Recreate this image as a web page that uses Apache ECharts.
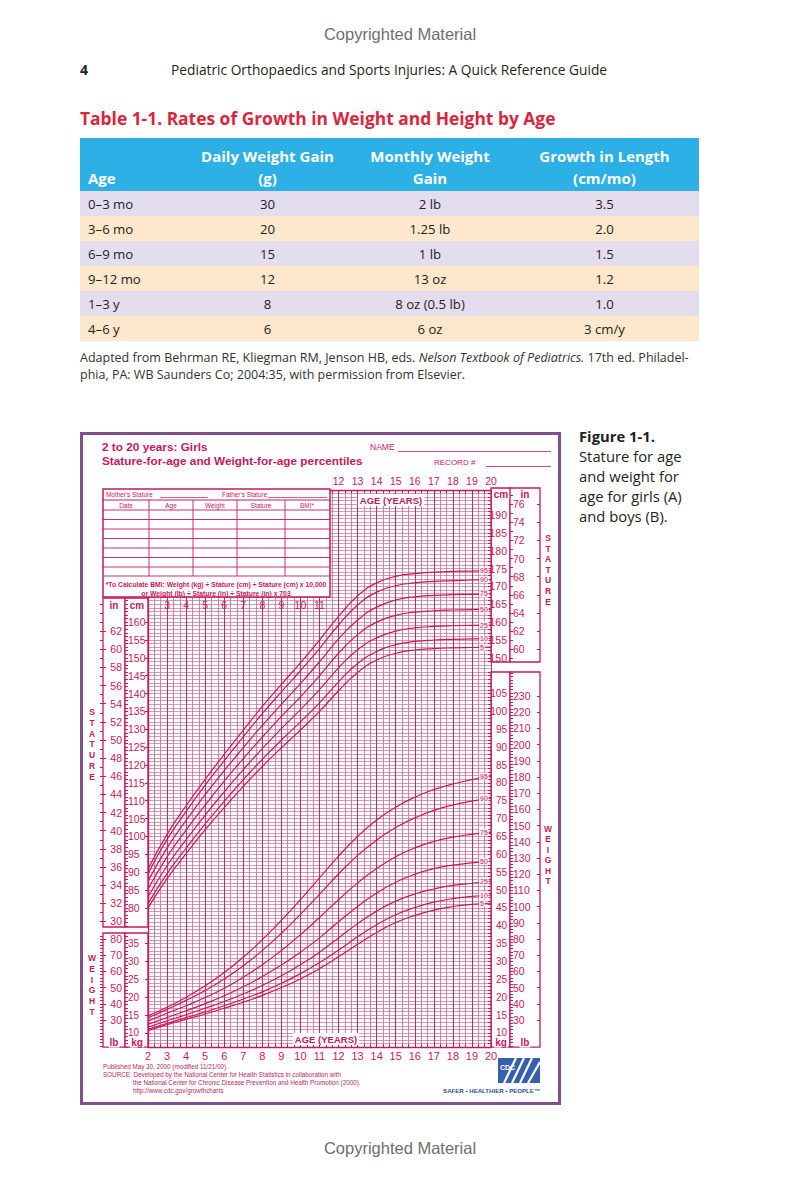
<!DOCTYPE html>
<html><head><meta charset="utf-8">
<script src="https://cdn.jsdelivr.net/npm/echarts@6/dist/echarts.min.js"></script>
<style>
html,body{margin:0;padding:0;background:#fff;}
#page{position:relative;width:800px;height:1184px;overflow:hidden;font-family:'Open Sans',Lato,sans-serif;color:#231f20;}
.t{position:absolute;white-space:nowrap;}
#tbl{position:absolute;left:80px;top:138px;width:619px;border-collapse:collapse;table-layout:fixed;font-family:'Open Sans',sans-serif;}
#tbl th{background:#2cb0e6;color:#fff;font-weight:bold;font-size:15px;line-height:22px;padding:7px 0 2px 0;vertical-align:bottom;text-align:center;}
#tbl th:first-child{text-align:left;padding-left:8px;}
#tbl td{height:25px;padding:0;font-size:13.2px;text-align:center;color:#231f20;}
#tbl td:first-child{text-align:left;padding-left:8px;}
#tbl tr.a td{background:#e4ddee;}
#tbl tr.b td{background:#fde7cd;}
#box{position:absolute;left:80px;top:432px;width:481px;height:673px;box-sizing:border-box;border:3px solid #80508e;}
#chart{position:absolute;left:0;top:0;width:800px;height:1184px;z-index:2;}
</style></head><body>
<div id="page">
  <div class="t" style="left:0;width:800px;text-align:center;top:25px;font-family:'Liberation Sans',Arial,sans-serif;font-size:16.5px;color:#6e6e6e">Copyrighted Material</div>
  <div class="t" style="left:80px;top:60px;font-size:14px;font-weight:bold">4</div>
  <div class="t" style="left:171px;top:60px;font-size:13.75px">Pediatric Orthopaedics and Sports Injuries: A Quick Reference Guide</div>
  <div class="t" style="left:80px;top:106px;font-size:17.4px;font-weight:bold;color:#d9263f">Table 1-1. Rates of Growth in Weight and Height by Age</div>
  <table id="tbl"><colgroup><col style="width:105px"><col style="width:165px"><col style="width:160px"><col style="width:189px"></colgroup><thead></thead><tbody></tbody></table>
  <div class="t" style="left:80px;top:349px;font-size:12.5px;line-height:17px;color:#333">Adapted from Behrman RE, Kliegman RM, Jenson HB, eds. <i>Nelson Textbook of Pediatrics.</i> 17th ed. Philadel-<br>phia, PA: WB Saunders Co; 2004:35, with permission from Elsevier.</div>
  <div class="t" style="left:579px;top:426px;font-size:14.8px;line-height:20px;color:#231f20"><b>Figure 1-1.</b><br>Stature for age<br>and weight for<br>age for girls (A)<br>and boys (B).</div>
  <div id="box"></div>
  <div class="t" style="left:0;width:800px;text-align:center;top:1139px;font-family:'Liberation Sans',Arial,sans-serif;font-size:16.5px;color:#6e6e6e">Copyrighted Material</div>
  <div id="chart"></div>
</div>
<script>
// ---------- table data ----------
const TBL_HEAD = [['', 'Age'], ['Daily Weight Gain', '(g)'], ['Monthly Weight', 'Gain'], ['Growth in Length', '(cm/mo)']];
const TBL_AGE = ['0–3 mo', '3–6 mo', '6–9 mo', '9–12 mo', '1–3 y', '4–6 y'];
const TBL_DAILY = ['30', '20', '15', '12', '8', '6'];
const TBL_MONTHLY = ['2 lb', '1.25 lb', '1 lb', '13 oz', '8 oz (0.5 lb)', '6 oz'];
const TBL_LENGTH = ['3.5', '2.0', '1.5', '1.2', '1.0', '3 cm/y'];

// ---------- chart data (girls 2-20 y) ----------
const AGES = [2,3,4,5,6,7,8,9,10,11,12,13,14,15,16,17,18,19,20];
const PCTS = ['5','10','25','50','75','90','95'];
// stature (cm)
const STAT_P5  = [80.0,88.2,95.2,101.9,108.1,114.0,119.6,124.8,129.8,135.0,140.8,145.9,149.4,151.3,152.2,152.6,152.8,152.9,153.0];
const STAT_P10 = [81.2,89.6,96.7,103.5,109.8,115.9,121.6,127.0,132.1,137.4,143.3,148.4,151.8,153.7,154.6,155.0,155.2,155.3,155.4];
const STAT_P25 = [83.1,91.8,99.1,106.0,112.5,118.7,124.6,130.2,135.5,141.1,147.2,152.3,155.6,157.5,158.4,158.8,159.0,159.1,159.2];
const STAT_P50 = [85.3,94.3,101.8,108.8,115.5,121.8,127.8,133.6,139.1,145.0,151.3,156.5,160.0,161.9,162.8,163.2,163.4,163.5,163.6];
const STAT_P75 = [87.5,96.8,104.5,111.7,118.4,124.9,131.1,137.0,142.8,148.9,155.3,160.6,164.2,166.2,167.1,167.5,167.7,167.8,167.9];
const STAT_P90 = [89.6,99.2,107.0,114.4,121.2,127.9,134.4,140.5,146.4,152.6,159.2,164.8,168.4,170.2,171.0,171.4,171.6,171.8,171.9];
const STAT_P95 = [90.9,100.6,108.6,116.0,123.0,129.8,136.4,142.6,148.6,155.0,161.6,167.4,171.0,172.8,173.6,174.0,174.2,174.3,174.4];
// weight (kg)
const WT_P5  = [10.6,12.3,13.8,15.3,16.9,18.6,20.5,22.7,25.1,28.0,31.3,34.8,38.1,40.9,42.9,44.4,45.4,46.0,46.3];
const WT_P10 = [11.0,12.7,14.3,15.9,17.6,19.5,21.5,23.9,26.6,29.7,33.2,36.9,40.3,43.1,45.1,46.6,47.6,48.2,48.6];
const WT_P25 = [11.6,13.4,15.1,16.9,18.8,20.9,23.3,26.0,29.1,32.6,36.6,40.6,44.1,46.9,48.9,50.3,51.3,51.9,52.5];
const WT_P50 = [12.4,14.3,16.2,18.2,20.4,22.9,25.8,29.0,32.6,36.6,41.1,45.4,49.2,52.2,54.4,56.0,57.0,57.6,58.1];
const WT_P75 = [13.3,15.5,17.6,19.9,22.5,25.6,29.1,33.1,37.5,42.3,47.3,52.0,56.0,59.3,61.8,63.6,64.8,65.6,66.2];
const WT_P90 = [14.2,16.6,19.1,21.9,25.1,28.8,33.1,37.9,43.2,48.8,54.5,59.7,64.0,67.5,70.2,72.3,73.8,74.9,75.7];
const WT_P95 = [14.8,17.2,20.0,23.2,26.9,31.2,36.1,41.5,47.3,53.4,59.5,65.0,69.6,73.2,76.0,78.1,79.7,80.9,81.9];
const STAT = [STAT_P5, STAT_P10, STAT_P25, STAT_P50, STAT_P75, STAT_P90, STAT_P95];
const WT = [WT_P5, WT_P10, WT_P25, WT_P50, WT_P75, WT_P90, WT_P95];

// tick labels
const AGE_TOP_LABELS = [12,13,14,15,16,17,18,19,20];
const AGE_MID_LABELS = [3,4,5,6,7,8,9,10,11];
const IN_LEFT = [30,32,34,36,38,40,42,44,46,48,50,52,54,56,58,60,62];
const CM_LEFT = [80,85,90,95,100,105,110,115,120,125,130,135,140,145,150,155,160];
const LB_LEFT = [30,40,50,60,70,80];
const KG_LEFT = [10,15,20,25,30,35];
const CM_RIGHT = [150,155,160,165,170,175,180,185,190];
const IN_RIGHT = [60,62,64,66,68,70,72,74,76];
const KG_RIGHT = [10,15,20,25,30,35,40,45,50,55,60,65,70,75,80,85,90,95,100,105];
const LB_RIGHT = [30,40,50,60,70,80,90,100,110,120,130,140,150,160,170,180,190,200,210,220,230];

// ---------- build table ----------
(function(){
  const th = document.querySelector('#tbl thead');
  const tr = document.createElement('tr');
  TBL_HEAD.forEach(h => { const c = document.createElement('th'); c.innerHTML = (h[0] || '&nbsp;') + '<br>' + h[1]; tr.appendChild(c); });
  th.appendChild(tr);
  const tb = document.querySelector('#tbl tbody');
  TBL_AGE.forEach((a, i) => {
    const r = document.createElement('tr'); r.className = i % 2 ? 'b' : 'a';
    [a, TBL_DAILY[i], TBL_MONTHLY[i], TBL_LENGTH[i]].forEach(v => { const c = document.createElement('td'); c.textContent = v; r.appendChild(c); });
    tb.appendChild(r);
  });
})();

// ---------- chart ----------
const MAG = '#c8175d';
const FONT = '"Liberation Sans", Arial, sans-serif';
const TOP = 490, CM_MAX = 197, CM_MIN = 41, KG_OFF = 35, LB_PER_KG = 2.20462, CM_PER_IN = 2.54;
const S = 3.5718;
const GH = (CM_MAX - CM_MIN) * S;
const GB = TOP + GH;
const cmAt = y => CM_MAX - (y - TOP) / S;
function steps(a, b, st) { const o = []; for (let v = Math.ceil(a / st - 1e-9) * st; v <= b + 1e-9; v += st) o.push(+v.toFixed(4)); return o; }

const chart = echarts.init(document.getElementById('chart'), null, { renderer: 'svg' });

const gridBase = { outerBoundsMode: 'none', containLabel: false };
function colGrid(left, width, top, bottom) {
  return Object.assign({ left: left, top: top, width: width, height: bottom - top, show: true, borderColor: MAG, borderWidth: 1.3, backgroundColor: '#fff' }, gridBase);
}
const grids = [
  Object.assign({ left: 148, top: TOP, width: 343, height: GH, show: false }, gridBase),
  colGrid(103, 22, 598, 927),   // 1 in (left)
  colGrid(125, 23, 598, 927),   // 2 cm (left)
  colGrid(103, 22, 933, GB),    // 3 lb (left)
  colGrid(125, 23, 933, GB),    // 4 kg (left)
  colGrid(491, 19, 488, 662),   // 5 cm (right)
  colGrid(510, 30, 488, 662),   // 6 in (right)
  colGrid(491, 19, 672, GB),    // 7 kg (right)
  colGrid(510, 30, 672, GB)     // 8 lb (right)
];

const lbl = (extra) => Object.assign({ color: MAG, fontSize: 10.5, fontFamily: FONT }, extra || {});
const ls = { color: MAG, width: 1 };

const xAxes = [
  { gridIndex: 0, type: 'value', min: 2, max: 20, interval: 1, position: 'bottom',
    axisLine: { show: true, lineStyle: { color: MAG, width: 1.3 } },
    axisTick: { show: true, inside: true, length: 4, lineStyle: ls },
    minorTick: { show: true, splitNumber: 3, length: 3, lineStyle: ls },
    axisLabel: lbl({ fontSize: 11, margin: 3 }),
    splitLine: { show: true, lineStyle: { color: '#c62a65', width: 1 } },
    minorSplitLine: { show: true, lineStyle: { color: '#d4648e', width: 0.8 } } },
  { gridIndex: 0, type: 'value', min: 2, max: 20, interval: 1, position: 'top',
    axisLine: { show: true, lineStyle: { color: MAG, width: 1.3 } },
    axisTick: { show: true, inside: true, length: 4, lineStyle: ls },
    minorTick: { show: true, splitNumber: 3, length: 3, lineStyle: ls },
    axisLabel: lbl({ fontSize: 10.5, margin: 4, customValues: AGE_TOP_LABELS }),
    splitLine: { show: false } },
  { gridIndex: 0, type: 'value', min: 2, max: 20, interval: 1, position: 'top', offset: -122,
    axisLine: { show: false }, axisTick: { show: false }, splitLine: { show: false },
    axisLabel: lbl({ fontSize: 10.5, margin: 2, customValues: AGE_MID_LABELS }) }
];
for (let g = 1; g <= 8; g++) xAxes.push({ gridIndex: g, type: 'value', min: 0, max: 1, show: false });

// axis with labels pointing into its own column
function colY(g, pos, ext, labels, tickStep, fs) {
  return { gridIndex: g, type: 'value', position: pos, min: ext[0], max: ext[1],
    axisLine: { show: false },
    axisTick: { show: true, inside: true, length: 3, customValues: steps(ext[0], ext[1], tickStep), lineStyle: ls },
    axisLabel: lbl({ inside: true, margin: 3, fontSize: fs || 10.5, customValues: labels }),
    splitLine: { show: false } };
}
// short dash on the far side of each label
function dashY(g, pos, ext, labels) {
  return { gridIndex: g, type: 'value', position: pos, min: ext[0], max: ext[1],
    axisLine: { show: false }, axisLabel: { show: false }, splitLine: { show: false },
    axisTick: { show: true, inside: true, length: 3, customValues: labels, lineStyle: ls } };
}
const eL1 = [cmAt(927), cmAt(598)], eL2 = [cmAt(GB) - KG_OFF, cmAt(933) - KG_OFF];
const eR1 = [cmAt(662), cmAt(488)], eR2 = [cmAt(GB) - KG_OFF, cmAt(672) - KG_OFF];
const toIn = e => [e[0] / CM_PER_IN, e[1] / CM_PER_IN];
const toLb = e => [e[0] * LB_PER_KG, e[1] * LB_PER_KG];

const yAxes = [
  { gridIndex: 0, type: 'value', min: CM_MIN, max: CM_MAX, interval: 1, position: 'left',
    axisLine: { show: true, lineStyle: { color: MAG, width: 1.3 } }, axisTick: { show: false }, axisLabel: { show: false },
    splitLine: { show: true, lineStyle: { color: '#c9809c', width: 0.8 } } },
  { gridIndex: 0, type: 'value', min: CM_MIN - KG_OFF, max: CM_MAX - KG_OFF, position: 'right', show: false },
  colY(1, 'right', toIn(eL1), IN_LEFT, 1), dashY(1, 'left', toIn(eL1), IN_LEFT),
  colY(2, 'left', eL1, CM_LEFT, 1), dashY(2, 'right', eL1, CM_LEFT),
  colY(3, 'right', toLb(eL2), LB_LEFT, 2), dashY(3, 'left', toLb(eL2), LB_LEFT),
  colY(4, 'left', eL2, KG_LEFT, 1, 10), dashY(4, 'right', eL2, KG_LEFT),
  colY(5, 'right', eR1, CM_RIGHT, 1),
  colY(6, 'left', toIn(eR1), IN_RIGHT, 1), dashY(6, 'right', toIn(eR1), IN_RIGHT),
  colY(7, 'right', eR2, KG_RIGHT, 1, 10),
  colY(8, 'left', toLb(eR2), LB_RIGHT, 2), dashY(8, 'right', toLb(eR2), LB_RIGHT)
];

function curve(vals, yIdx, name) {
  return { type: 'line', name: name, xAxisIndex: 0, yAxisIndex: yIdx, silent: true,
    data: AGES.map((a, i) => [a, vals[i]]), smooth: 0.5, symbol: 'none',
    lineStyle: { color: MAG, width: 1.2 }, z: 5,
    endLabel: { show: true, formatter: () => name, color: MAG, fontSize: 7, fontFamily: FONT,
      distance: 0, offset: [-12, 0], backgroundColor: 'rgba(255,255,255,0.8)', padding: [0, 1] } };
}
const series = [];
STAT.forEach((v, i) => series.push(curve(v, 0, PCTS[i])));
WT.forEach((v, i) => series.push(curve(v, 1, PCTS[i])));

// ---------- static graphics ----------
function T(text, x, y, o) {
  o = o || {};
  const st = { text: text, fill: o.c || MAG, font: (o.w || 'normal') + ' ' + (o.s || 8) + 'px ' + FONT,
    textAlign: o.a || 'left', textVerticalAlign: 'middle', align: o.a || 'left', verticalAlign: 'middle' };
  if (o.bg) { st.backgroundColor = o.bg; st.padding = o.pad || [0, 2]; }
  return { type: 'text', x: x, y: y, z: 110, silent: true, style: st };
}
function L(x1, y1, x2, y2, w, c) {
  return { type: 'line', z: 105, silent: true, shape: { x1: x1, y1: y1, x2: x2, y2: y2 }, style: { stroke: c || MAG, lineWidth: w || 1 } };
}
function R(x, y, w, h, fill, stroke, lw) {
  return { type: 'rect', z: 100, silent: true, shape: { x: x, y: y, width: w, height: h }, style: { fill: fill, stroke: stroke || null, lineWidth: lw || 0 } };
}
const gfx = [];
gfx.push(T('2 to 20 years: Girls', 102, 447, { w: 'bold', s: 11.8 }));
gfx.push(T('Stature-for-age and Weight-for-age percentiles', 102, 461, { w: 'bold', s: 11.8 }));
gfx.push(T('NAME', 370, 447, { s: 8.5 }));
gfx.push(L(398, 451.5, 551, 451.5, 0.8));
gfx.push(T('RECORD #', 434, 462, { s: 8 }));
gfx.push(L(486, 466.5, 551, 466.5, 0.8));
// record box
gfx.push(R(103, 489, 227, 108, '#fff', MAG, 1.5));
gfx.push(T("Mother's Stature", 106, 494.5, { s: 6.4 }));
gfx.push(L(160, 497.5, 208, 497.5, 0.7));
gfx.push(T("Father's Stature", 222, 494.5, { s: 6.4 }));
gfx.push(L(268, 497.5, 327, 497.5, 0.7));
gfx.push(L(103, 500, 330, 500, 1));
[['Date', 126], ['Age', 171], ['Weight', 215], ['Stature', 261], ['BMI*', 307]].forEach(h => gfx.push(T(h[0], h[1], 505, { s: 6.4, a: 'center' })));
[510, 519.5, 529, 538.5, 548, 557.5, 567, 576].forEach(y => gfx.push(L(103, y, 330, y, 0.9)));
[149, 193, 237, 285].forEach(x => gfx.push(L(x, 500, x, 576, 0.9)));
gfx.push(T('*To Calculate BMI: Weight (kg) ÷ Stature (cm) ÷ Stature (cm) x 10,000', 216, 584, { s: 6.8, w: 'bold', a: 'center' }));
gfx.push(T('or Weight (lb) ÷ Stature (in) ÷ Stature (in) x 703', 216, 593, { s: 6.8, w: 'bold', a: 'center' }));
// column headers
const HB = { w: 'bold', s: 10, a: 'center', bg: '#fff', pad: [0, 1] };
gfx.push(T('in', 114, 605, HB));
gfx.push(T('cm', 137, 605, HB));
gfx.push(T('cm', 501, 494.5, HB));
gfx.push(T('in', 525, 494.5, HB));
gfx.push(T('lb', 114, 1042.5, HB));
gfx.push(T('kg', 137, 1042.5, HB));
gfx.push(T('kg', 501, 1042.5, HB));
gfx.push(T('lb', 525, 1042.5, HB));
// AGE (YEARS) boxes
gfx.push(T('AGE (YEARS)', 391, 500, { w: 'bold', s: 9.5, a: 'center', bg: '#fff', pad: [1, 2] }));
gfx.push(T('AGE (YEARS)', 326, 1039, { w: 'bold', s: 9.5, a: 'center', bg: '#fff', pad: [1, 2] }));
// vertical words
function vword(w, x, y0, dy) { w.split('').forEach((ch, i) => gfx.push(T(ch, x, y0 + i * dy, { w: 'bold', s: 8.5, a: 'center' }))); }
vword('STATURE', 92, 712, 10.8);
vword('WEIGHT', 92, 958, 10.8);
vword('STATURE', 548, 538, 10.6);
vword('WEIGHT', 548, 829, 10.4);
// footer
const FC = '#b3285f';
gfx.push(T('Published May 30, 2000 (modified 11/21/00).', 103, 1066, { s: 6.3, c: FC }));
gfx.push(T('SOURCE: Developed by the National Center for Health Statistics in collaboration with', 103, 1074, { s: 6.3, c: FC }));
gfx.push(T('the National Center for Chronic Disease Prevention and Health Promotion (2000).', 133, 1082, { s: 6.3, c: FC }));
gfx.push(T('http://www.cdc.gov/growthcharts', 133, 1090, { s: 6.3, c: FC }));
// logo
gfx.push(R(498, 1058, 42, 25, '#3560ad'));
[[504, 1083, 516, 1058], [512, 1083, 524, 1058], [520, 1083, 532, 1058], [528, 1083, 540, 1062]].forEach(p => gfx.push(L(p[0], p[1], p[2], p[3], 2.2, '#fff')));
gfx.push(R(500, 1061, 15, 12, '#3560ad'));
gfx.push(T('CDC', 507.5, 1067, { s: 7, w: 'bold', a: 'center', c: '#fff' }));
gfx.push(T('SAFER • HEALTHIER • PEOPLE™', 540, 1090, { s: 6.1, w: 'bold', a: 'right', c: '#2c4f9e' }));

chart.setOption({
  animation: false,
  grid: grids,
  xAxis: xAxes,
  yAxis: yAxes,
  series: series,
  graphic: { elements: gfx }
});
</script>
</body></html>
